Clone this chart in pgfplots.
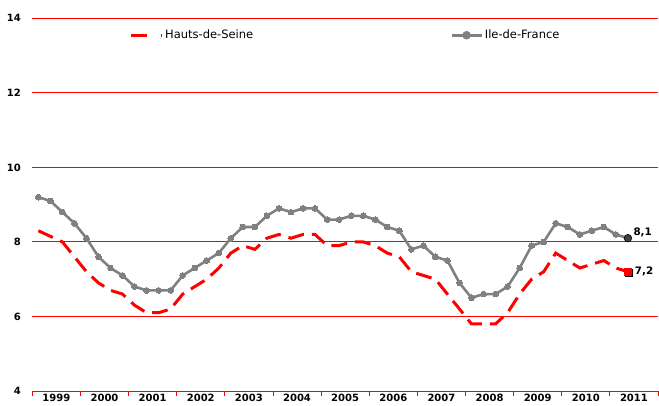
\documentclass[border=0pt]{standalone}
\usepackage{pgfplots}
\pgfplotsset{compat=1.18}
\usepackage{fontspec}
\setmainfont{DejaVu Sans}
\definecolor{grayline}{RGB}{128,128,128}
\begin{document}
\begin{tikzpicture}
\begin{axis}[
  scale only axis,
  width=625.7pt, height=372.7pt,
  xmin=-0.5, xmax=51.5, ymin=4, ymax=14,
  axis x line*=bottom,
  axis y line*=left,
  y axis line style={draw=none},
  x axis line style={red, line width=0.9pt, -},
  ytick={4,6,...,14},
  ytick style={draw=none},
  yticklabel style={font=\fontsize{10}{12}\selectfont\bfseries, xshift=-3pt},
  /pgf/number format/assume math mode=true,
  xtick={-0.5,3.5,...,51.5},
  x tick label as interval,
  xticklabels={1999,2000,2001,2002,2003,2004,2005,2006,2007,2008,2009,2010,2011},
  xticklabel style={font=\fontsize{10}{12}\selectfont\bfseries, inner sep=0.4pt, yshift=2.6pt},
  xtick style={red, line width=0.8pt},
  tick align=outside,
  major tick length=5pt,
  ymajorgrids,
  major grid style={red, line width=0.9pt},
  legend columns=2,
  legend style={draw=none, fill=none, inner sep=0pt, at={(rel axis cs:0.1545,0.9545)}, anchor=west,
    font=\fontsize{11.5}{13}\selectfont,
    /tikz/every even column/.append style={column sep=195pt}},
  legend cell align=left,
  clip=false,
]
\addplot[red, line width=3pt, dash pattern=on 16pt off 8pt,
  legend image code/.code={\draw[red, line width=3pt] (0pt,0pt) -- (18pt,0pt); \draw[red, line width=3pt] (30pt,0pt) -- (31pt,0pt);}]
coordinates {
(0,8.3)(1,8.15)(2,8.0)(3,7.6)(4,7.2)(5,6.9)(6,6.7)(7,6.6)(8,6.3)(9,6.1)
(10,6.1)(11,6.2)(12,6.6)(13,6.8)(14,7.0)(15,7.3)(16,7.7)(17,7.9)(18,7.8)(19,8.1)
(20,8.2)(21,8.1)(22,8.2)(23,8.2)(24,7.9)(25,7.9)(26,8.0)(27,8.0)(28,7.9)(29,7.7)
(30,7.6)(31,7.2)(32,7.1)(33,7.0)(34,6.6)(35,6.2)(36,5.8)(37,5.8)(38,5.8)(39,6.1)
(40,6.6)(41,7.0)(42,7.2)(43,7.7)(44,7.5)(45,7.3)(46,7.4)(47,7.5)(48,7.3)(49,7.2)
};
\addlegendentry{Hauts-de-Seine}
\addplot[grayline, line width=2.6pt, mark=*, mark size=2.9pt, mark options={solid, fill=grayline, draw=grayline, line width=0pt},
  legend image code/.code={\draw[grayline, line width=2.6pt] (0pt,0pt) -- (30pt,0pt); \fill[grayline] (15pt,0pt) circle (2.9pt);}]
coordinates {
(0,9.2)(1,9.1)(2,8.8)(3,8.5)(4,8.1)(5,7.6)(6,7.3)(7,7.1)(8,6.8)(9,6.7)
(10,6.7)(11,6.7)(12,7.1)(13,7.3)(14,7.5)(15,7.7)(16,8.1)(17,8.4)(18,8.4)(19,8.7)
(20,8.9)(21,8.8)(22,8.9)(23,8.9)(24,8.6)(25,8.6)(26,8.7)(27,8.7)(28,8.6)(29,8.4)
(30,8.3)(31,7.8)(32,7.9)(33,7.6)(34,7.5)(35,6.9)(36,6.5)(37,6.6)(38,6.6)(39,6.8)
(40,7.3)(41,7.9)(42,8.0)(43,8.5)(44,8.4)(45,8.2)(46,8.3)(47,8.4)(48,8.2)(49,8.1)
};
\addlegendentry{Ile-de-France}
% final points
\addplot[only marks, mark=square*, mark size=3.6pt, mark options={fill=black, draw=black, xshift=1pt, yshift=-1pt}, forget plot] coordinates {(49,7.2)};
\addplot[only marks, mark=square*, mark size=3.6pt, mark options={fill=red, draw=red}, forget plot,
  nodes near coords={7,2}, nodes near coords style={anchor=west, xshift=3.5pt, font=\fontsize{10.3}{12}\selectfont\bfseries, text=black}] coordinates {(49,7.2)};
\addplot[only marks, mark=*, mark size=3.8pt, mark options={fill=black!75, draw=black, line width=0.6pt}, forget plot,
  nodes near coords={8,1}, nodes near coords style={anchor=south west, xshift=2pt, yshift=-2pt, font=\fontsize{10.3}{12}\selectfont\bfseries, text=black}] coordinates {(49,8.1)};
\end{axis}
\pgfresetboundingbox
\path[use as bounding box] ([xshift=-32.3pt,yshift=-14.3pt]current axis.south west) rectangle ([xshift=1pt,yshift=18.3pt]current axis.north east);
\end{tikzpicture}
\end{document}
